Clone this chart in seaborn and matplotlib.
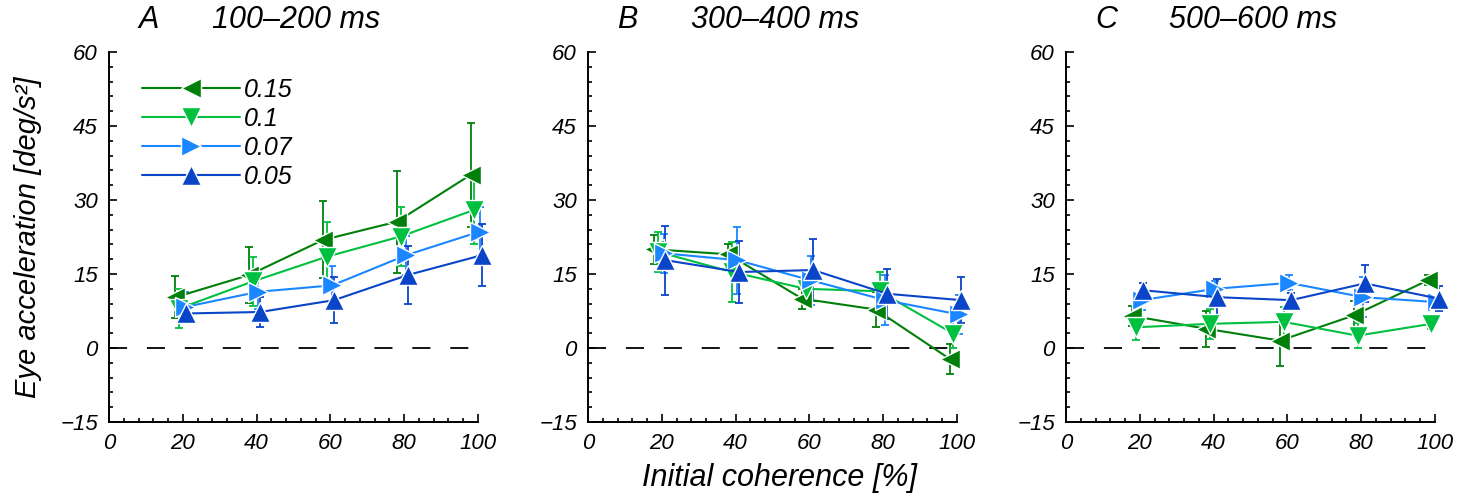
import numpy as np
import pandas as pd
import matplotlib
matplotlib.use("Agg")
import matplotlib.pyplot as plt
from matplotlib.lines import Line2D
from matplotlib.ticker import MultipleLocator
import seaborn as sns

# ---------------- data ----------------
coherence = [20, 40, 60, 80, 100]
series = ["0.15", "0.1", "0.07", "0.05"]
panel_letters = ["A", "B", "C"]
panel_titles = ["100\u2013200 ms", "300\u2013400 ms", "500\u2013600 ms"]

# Panel A (100-200 ms)
a_015 = [10.3, 14.8, 21.9, 25.6, 35.1]
a_010 = [8.0, 13.5, 18.5, 22.6, 28.0]
a_007 = [8.3, 11.4, 12.7, 18.8, 23.6]
a_005 = [7.0, 7.3, 9.7, 14.8, 18.8]
a_err_015 = [4.3, 5.6, 7.8, 10.3, 10.5]
a_err_010 = [4.0, 5.0, 7.0, 6.0, 7.0]
a_err_007 = [3.0, 3.5, 4.0, 4.0, 5.0]
a_err_005 = [2.0, 3.1, 4.7, 5.8, 6.3]

# Panel B (300-400 ms)
b_015 = [20.0, 19.0, 10.0, 7.8, -2.2]
b_010 = [19.5, 15.4, 12.0, 11.5, 2.9]
b_007 = [19.2, 17.8, 13.7, 9.7, 6.8]
b_005 = [17.8, 15.4, 15.8, 11.0, 9.7]
b_err_015 = [3.0, 2.0, 2.0, 3.5, 3.0]
b_err_010 = [4.0, 6.0, 3.0, 4.0, 3.0]
b_err_007 = [4.0, 6.8, 5.0, 5.0, 4.0]
b_err_005 = [7.0, 6.3, 6.3, 5.1, 4.7]

# Panel C (500-600 ms)
c_015 = [6.5, 3.9, 1.5, 6.6, 13.7]
c_010 = [4.2, 4.9, 5.3, 2.5, 4.9]
c_007 = [9.7, 12.0, 13.2, 10.3, 9.3]
c_005 = [11.7, 10.3, 9.7, 13.1, 10.0]
c_err_015 = [2.0, 3.7, 5.1, 3.0, 1.0]
c_err_010 = [2.5, 3.0, 3.0, 2.5, 1.0]
c_err_007 = [2.0, 1.5, 1.5, 4.0, 1.0]
c_err_005 = [1.5, 3.7, 1.5, 3.8, 2.5]

values = {
    "A": [a_015, a_010, a_007, a_005],
    "B": [b_015, b_010, b_007, b_005],
    "C": [c_015, c_010, c_007, c_005],
}
errors = {
    "A": [a_err_015, a_err_010, a_err_007, a_err_005],
    "B": [b_err_015, b_err_010, b_err_007, b_err_005],
    "C": [c_err_015, c_err_010, c_err_007, c_err_005],
}

# ---------------- styles ----------------
colors = {"0.15": "#00800a", "0.1": "#00c040", "0.07": "#1a86ff", "0.05": "#0a44c8"}
markers = {"0.15": "<", "0.1": "v", "0.07": ">", "0.05": "^"}
x_offset = {"0.15": -2.0, "0.1": -1.0, "0.07": 0.5, "0.05": 1.0}

rows = []
for p in panel_letters:
    for s, vals, errs in zip(series, values[p], errors[p]):
        for c, v, e in zip(coherence, vals, errs):
            rows.append(dict(panel=p, series=s, coherence=c, value=v, err=e,
                             xplot=c + x_offset[s]))
df = pd.DataFrame(rows)

sns.set_theme(style="ticks")
plt.rcParams["font.family"] = ["Liberation Sans", "DejaVu Sans"]
plt.rcParams["font.style"] = "italic"
plt.rcParams["axes.linewidth"] = 1.4
for k in ["text.color", "axes.labelcolor", "xtick.color", "ytick.color", "axes.edgecolor"]:
    plt.rcParams[k] = "black"

fig = plt.figure(figsize=(14.73, 4.98), dpi=100)
lefts = [109 / 1473, 588 / 1473, 1066 / 1473]
w = 369 / 1473
bottom = 76 / 498
h = 370 / 498

axes = []
for i, p in enumerate(panel_letters):
    ax = fig.add_axes([lefts[i], bottom, w, h])
    axes.append(ax)
    sub = df[df.panel == p]
    ax.plot([0, 100], [0, 0], color="black", lw=1.3, linestyle=(0, (10, 11)), zorder=1)
    for s in series:
        ss = sub[sub.series == s]
        eb = ax.errorbar(ss.xplot, ss.value, yerr=ss.err, fmt="none", ecolor=colors[s],
                         elinewidth=1.3, capsize=3, capthick=1.3, zorder=2)
        for art in eb.lines[1] + eb.lines[2]:
            art.set_clip_on(False)
    sns.lineplot(data=sub, x="xplot", y="value", hue="series", style="series",
                 hue_order=series, style_order=series, palette=colors,
                 markers=markers, dashes=False, markersize=15, lw=1.5,
                 markeredgecolor="white", markeredgewidth=1.0, clip_on=False,
                 estimator=None, sort=False, legend=False, ax=ax, zorder=3)
    ax.set_xlim(0, 100)
    ax.set_ylim(-15, 60)
    ax.xaxis.set_major_locator(MultipleLocator(20))
    ax.xaxis.set_minor_locator(MultipleLocator(4))
    ax.yaxis.set_major_locator(MultipleLocator(15))
    ax.yaxis.set_minor_locator(MultipleLocator(3))
    ax.tick_params(which="both", direction="in", labelsize=16, width=1.2)
    ax.tick_params(which="major", length=6, pad=8)
    ax.tick_params(which="minor", length=3)
    ax.set_xlabel("")
    ax.set_ylabel("")
    sns.despine(ax=ax)
    for lab in ax.get_xticklabels() + ax.get_yticklabels():
        lab.set_fontstyle("italic")
    ax.text(0.08, 1.045, p, transform=ax.transAxes, fontsize=22, fontstyle="italic",
            ha="left", va="bottom")
    ax.text(0.28, 1.045, panel_titles[i], transform=ax.transAxes, fontsize=22,
            fontstyle="italic", ha="left", va="bottom")

handles = [Line2D([], [], color=colors[s], marker=markers[s], markersize=15, lw=1.5,
                  markeredgecolor="white", markeredgewidth=1.0) for s in series]
leg = axes[0].legend(handles, series, loc="upper left", bbox_to_anchor=(0.09, 0.93),
                     frameon=False, fontsize=18, handlelength=3.9, handletextpad=0.15,
                     labelspacing=0.2, borderaxespad=0, borderpad=0)
for t in leg.get_texts():
    t.set_fontstyle("italic")

fig.text(28 / 1473, 1 - 237 / 498, "Eye acceleration [deg/s\u00b2]", rotation=90,
         fontsize=21, fontstyle="italic", ha="center", va="center")
fig.text(780 / 1473, 1 - 478 / 498, "Initial coherence [%]", fontsize=22,
         fontstyle="italic", ha="center", va="center")

fig.savefig("out.png", dpi=100)
